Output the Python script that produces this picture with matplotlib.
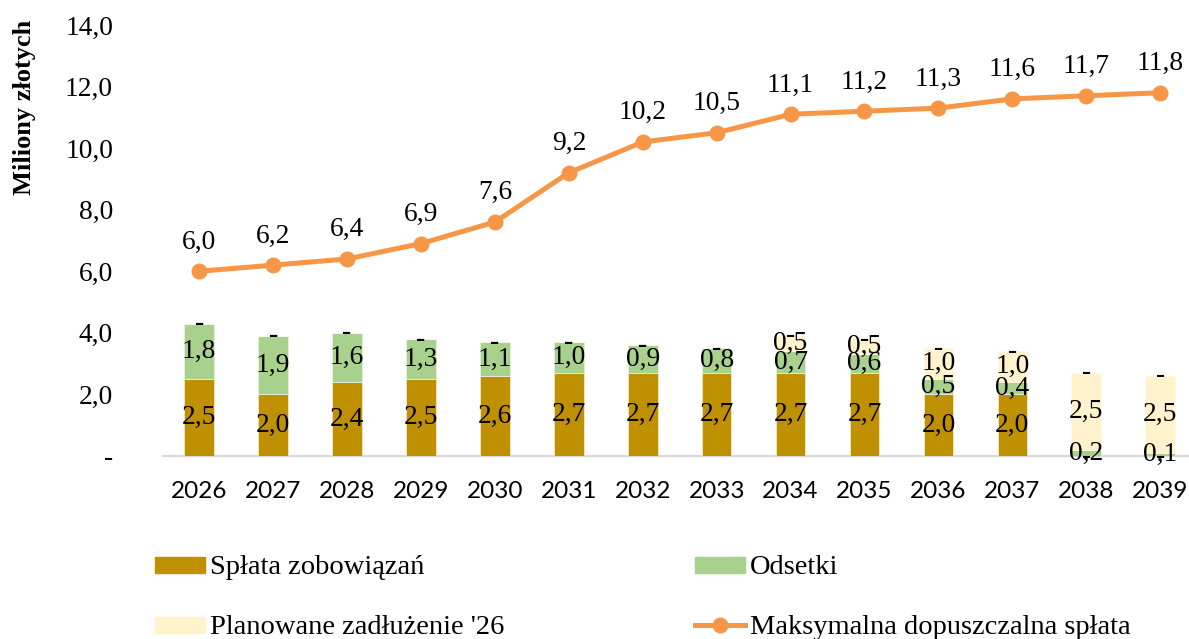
import matplotlib
matplotlib.use("Agg")
import matplotlib.pyplot as plt
from matplotlib.lines import Line2D
from matplotlib.patches import Rectangle
import numpy as np

years = ["2026", "2027", "2028", "2029", "2030", "2031", "2032",
         "2033", "2034", "2035", "2036", "2037", "2038", "2039"]
splata = [2.5, 2.0, 2.4, 2.5, 2.6, 2.7, 2.7, 2.7, 2.7, 2.7, 2.0, 2.0, 0.0, 0.0]
odsetki = [1.8, 1.9, 1.6, 1.3, 1.1, 1.0, 0.9, 0.8, 0.7, 0.6, 0.5, 0.4, 0.2, 0.1]
planowane = [0.0, 0.0, 0.0, 0.0, 0.0, 0.0, 0.0, 0.0, 0.5, 0.5, 1.0, 1.0, 2.5, 2.5]
pozostale = [0.0] * 14
maks = [6.0, 6.2, 6.4, 6.9, 7.6, 9.2, 10.2, 10.5, 11.1, 11.2, 11.3, 11.6, 11.7, 11.8]
yticks = [0, 2, 4, 6, 8, 10, 12, 14]
legend_labels = ["Spłata zobowiązań", "Odsetki", "Planowane zadłużenie '26",
                 "Maksymalna dopuszczalna spłata"]

SERIF = "Liberation Serif"
FS = 19.8
c_spl = "#BF9000"
c_ods = "#A9D18E"
c_pla = "#FFF2CC"
c_line = "#F79646"

def fmt(v):
    if abs(v) < 1e-9:
        return "-"
    return f"{v:.1f}".replace(".", ",")

W, H = 1189, 639
fig = plt.figure(figsize=(W / 100, H / 100), dpi=100)
ax = fig.add_axes([163 / W, 1 - 456 / H, (1189 - 163) / W, (456 - 25) / H])

x = np.arange(len(years))
bw = 0.4
s = np.array(splata)
o = np.array(odsetki)
p = np.array(planowane)
z = np.array(pozostale)

b1 = ax.bar(x, s, bw, color=c_spl, edgecolor="#F2E6C4", linewidth=0.6, zorder=2)
b2 = ax.bar(x, o, bw, bottom=s, color=c_ods, edgecolor="#E6F0DC", linewidth=0.6, zorder=2)
b3 = ax.bar(x, p, bw, bottom=s + o, color=c_pla, edgecolor="#FFF8E6", linewidth=0.6, zorder=2)
b4 = ax.bar(x, z, bw, bottom=s + o + p, color="none", zorder=2)

for bars, vals in [(b1, s), (b2, o), (b3, p), (b4, z)]:
    labels = [fmt(v) for v in vals]
    ax.bar_label(bars, labels=labels, label_type="center", fontsize=FS,
                 family=SERIF, color="black", zorder=5)

ax.plot(x, maks, color=c_line, lw=3.6, marker="o", ms=10.5, zorder=4,
        solid_capstyle="round")
for xi, v in zip(x, maks):
    ax.annotate(fmt(v), (xi, v), xytext=(0, 21), textcoords="offset points",
                ha="center", va="center", fontsize=FS, family=SERIF)

ax.set_xlim(-0.49, 13.39)
ax.set_ylim(0, 14)
ax.set_yticks(yticks)
ax.set_yticklabels([fmt(v) for v in yticks], family=SERIF, fontsize=FS)
ax.set_xticks(x)
ax.set_xticklabels(years, family="Lato", fontsize=17.5)
ax.tick_params(axis="y", length=0, pad=36)
ax.tick_params(axis="x", length=0, pad=18)
for sp in ["top", "right", "left"]:
    ax.spines[sp].set_visible(False)
ax.spines["bottom"].set_color("#D9D9D9")
ax.spines["bottom"].set_linewidth(1.5)
ax.spines["bottom"].set_zorder(1)

fig.text(25 / W, 1 - 107 / H, "Miliony złotych", rotation=90, ha="center",
         va="center", family=SERIF, fontweight="bold", fontsize=19)

# manual legend
def fx(px):
    return px / W

def fy(py):
    return 1 - py / H

rows = [565, 625]
cols = [155, 695]
entries = [(cols[0], rows[0], "patch", c_spl, legend_labels[0]),
           (cols[1], rows[0], "patch", c_ods, legend_labels[1]),
           (cols[0], rows[1], "patch", c_pla, legend_labels[2]),
           (cols[1], rows[1], "line", c_line, legend_labels[3])]
for cx, cy, kind, col, lab in entries:
    if kind == "patch":
        fig.patches.append(Rectangle((fx(cx), fy(cy + 8)), fx(50), 16 / H,
                                     transform=fig.transFigure, color=col))
    else:
        fig.lines.append(Line2D([fx(cx), fx(cx + 50)], [fy(cy), fy(cy)],
                                transform=fig.transFigure, color=col, lw=3.6))
        fig.lines.append(Line2D([fx(cx + 25)], [fy(cy)], transform=fig.transFigure,
                                color=col, marker="o", ms=10.5))
    fig.text(fx(cx + 55), fy(cy), lab, ha="left", va="center_baseline",
             family=SERIF, fontsize=20.5)

fig.savefig("out.png", dpi=100)
